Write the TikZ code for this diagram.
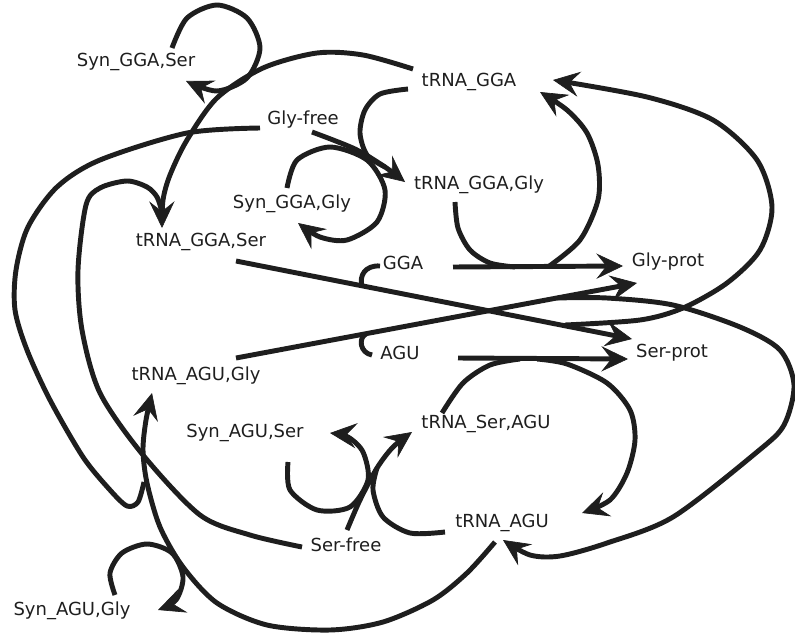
\documentclass[tikz,border=0pt]{standalone}
\usepackage{fontspec}
\setmainfont{DejaVu Sans}
\usetikzlibrary{arrows.meta}
\definecolor{ink}{RGB}{30,30,30}
\begin{document}
\begin{tikzpicture}[x=0.75pt,y=-0.75pt,
  lbl/.style={inner sep=0pt, text height=9.9pt, text depth=0pt,
    font=\fontsize{13.5}{16}\selectfont, text=ink},
  wire/.style={line width=3.7pt, draw=ink, line join=round},
  arr/.style={wire, -{Stealth[length=20pt,width=19pt,inset=7.5pt,line width=0.5pt]}},
]
\useasboundingbox (0,0) rectangle (795,635);

% species
\node[lbl] (synggaser)  at (136,60)  {Syn\_GGA,Ser};
\node[lbl] (trnagga)    at (469,80)  {tRNA\_GGA};
\node[lbl] (glyfree)    at (303,118) {Gly-free};
\node[lbl] (synggagly)  at (292,202) {Syn\_GGA,Gly};
\node[lbl] (trnaggagly) at (479,183) {tRNA\_GGA,Gly};
\node[lbl] (trnaggaser) at (201,240) {tRNA\_GGA,Ser};
\node[lbl] (gga)        at (403,263) {GGA};
\node[lbl] (glyprot)    at (668,260) {Gly-prot};
\node[lbl] (agu)        at (400,353) {AGU};
\node[lbl] (serprot)    at (672,351) {Ser-prot};
\node[lbl] (trnaagugly) at (196,374) {tRNA\_AGU,Gly};
\node[lbl] (synaguser)  at (245,431) {Syn\_AGU,Ser};
\node[lbl] (trnaseragu) at (486,422) {tRNA\_Ser,AGU};
\node[lbl] (trnaagu)    at (502,521) {tRNA\_AGU};
\node[lbl] (serfree)    at (346,545) {Ser-free};
\node[lbl] (synagugly)  at (72,609)  {Syn\_AGU,Gly};

% connector ends next to the labels
\coordinate (A0) at ([shift={(36,-12)}]synggaser.center);
\coordinate (A1) at ([shift={(50,21)}]synggaser.center);
\coordinate (B0) at ([shift={(-56,-11)}]trnagga.center);
\coordinate (Bt) at ([shift={(-39,-12)}]trnaggaser.center);
\coordinate (C0) at ([shift={(-44,2)}]serfree.center);
\coordinate (D0) at ([shift={(-43,10)}]glyfree.center);
\coordinate (Dt) at ([shift={(-44,19)}]trnaagugly.center);
\coordinate (E0) at ([shift={(-7,21)}]trnaagu.center);
\coordinate (F0) at ([shift={(43,-14)}]synagugly.center);
\coordinate (Ft) at ([shift={(86,1)}]synagugly.center);
\coordinate (G0) at ([shift={(9,14)}]glyfree.center);
\coordinate (Gt) at ([shift={(-74,-1)}]trnaggagly.center);
\coordinate (H0) at ([shift={(-61,9)}]trnagga.center);
\coordinate (I0) at ([shift={(-5,-14)}]synggagly.center);
\coordinate (It) at ([shift={(6,21)}]synggagly.center);
\coordinate (J0) at ([shift={(-24,19)}]trnaggagly.center);
\coordinate (K0) at ([shift={(50,4)}]gga.center);
\coordinate (Kt) at ([shift={(-45,6)}]glyprot.center);
\coordinate (Lt) at ([shift={(71,12)}]trnagga.center);
\coordinate (M0) at ([shift={(35,21)}]trnaggaser.center);
\coordinate (Mt) at ([shift={(-40,-12)}]serprot.center);
\coordinate (N0) at ([shift={(-23,3)}]gga.center);
\coordinate (Ot) at ([shift={(84,0)}]trnagga.center);
\coordinate (P0) at ([shift={(40,-16)}]trnaagugly.center);
\coordinate (Pt) at ([shift={(-31,23)}]glyprot.center);
\coordinate (Q0) at ([shift={(-28,2)}]agu.center);
\coordinate (Rt) at ([shift={(1,19)}]trnaagu.center);
\coordinate (S0) at ([shift={(58,5)}]agu.center);
\coordinate (St) at ([shift={(-44,8)}]serprot.center);
\coordinate (T0) at ([shift={(-44,-9)}]trnaseragu.center);
\coordinate (Ut) at ([shift={(80,-8)}]trnaagu.center);
\coordinate (V0) at ([shift={(1,-15)}]serfree.center);
\coordinate (Vt) at ([shift={(-74,10)}]trnaseragu.center);
\coordinate (W0) at ([shift={(-57,11)}]trnaagu.center);
\coordinate (X0) at ([shift={(43,31)}]synaguser.center);
\coordinate (Xt) at ([shift={(85,2)}]synaguser.center);

% junctions where reactant lines merge or product lines split
\coordinate (jC)      at (162,212);
\coordinate (jD)      at (144,482);
\coordinate (jGgly)   at (385,167);
\coordinate (jGGAin)  at (515,267);
\coordinate (jGGAout) at (548,267);
\coordinate (jSerM)   at (362,286);
\coordinate (jSerOut) at (565,325);
\coordinate (jAGUin)  at (366,334);
\coordinate (jGlyOut) at (557,298);
\coordinate (jSin)    at (520,359);
\coordinate (jSout)   at (537,359);
\coordinate (jVin)    at (377,468);

% charging tRNA_GGA with Ser
\draw[arr] plot[smooth] coordinates {(A0) (187,18) (217,5) (247,18) (260,48) (247,78) (217,91) (A1)};
\draw[arr] plot[smooth] coordinates {(B0) (363,55) (317,53) (263,68) (217,98) (187,140) (170,175) (163,200) (Bt)};
\draw[wire] plot[smooth] coordinates {(C0) (250,535) (200,515) (143,455) (100,393) (82,330) (78,270) (86,205) (100,188) (127,181) (147,187) (157,197) (jC)};

% charging tRNA_AGU with Gly
\draw[wire] plot[smooth] coordinates {(D0) (187,133) (100,160) (57,187) (28,227) (16,270) (15,310) (27,350) (50,400) (83,457) (110,490) (127,506) (138,502) (jD)};
\draw[arr] plot[smooth] coordinates {(E0) (467,573) (433,600) (383,622) (330,630) (267,625) (217,603) (183,567) (160,527) (147,483) (143,450) (146,420) (Dt)};
\draw[arr] plot[smooth] coordinates {(F0) (110,573) (122,553) (147,544) (172,553) (183,577) (176,600) (Ft)};

% charging tRNA_GGA with Gly
\draw[arr] plot[smooth] coordinates {(G0) (355,149) (jGgly) (Gt)};
\draw[wire] plot[smooth] coordinates {(H0) (380,94) (365,110) (360,133) (367,155) (jGgly)};
\draw[arr] plot[smooth] coordinates {(I0) (297,160) (330,147) (367,160) (385,190) (377,222) (347,240) (320,237) (It)};

% translation of GGA by tRNA_GGA,Gly
\draw[wire] plot[smooth] coordinates {(J0) (458,228) (470,250) (490,263) (jGGAin)};
\draw[arr] (K0) -- (Kt);
\draw[arr] plot[smooth] coordinates {(jGGAout) (580,240) (598,200) (598,165) (587,133) (567,110) (Lt)};

% translation of GGA by tRNA_GGA,Ser
\draw[arr] (M0) -- (Mt);
\draw[wire] (N0) .. controls (365,265) and (359,276) .. (jSerM);
\draw[arr] plot[smooth] coordinates {(jSerOut) (640,320) (683,308) (727,283) (760,250) (772,207) (757,160) (713,120) (647,97) (Ot)};

% translation of AGU by tRNA_AGU,Gly
\draw[arr] (P0) -- (Pt);
\draw[wire] (Q0) .. controls (360,353) and (358,338) .. (jAGUin);
\draw[arr] plot[smooth] coordinates {(jGlyOut) (607,298) (673,305) (740,327) (780,350) (794,385) (784,425) (757,452) (673,517) (607,543) (560,556) (530,555) (Rt)};

% translation of AGU by tRNA_Ser,AGU
\draw[arr] (S0) -- (St);
\draw[wire] plot[smooth] coordinates {(T0) (463,383) (490,365) (jSin)};
\draw[arr] plot[smooth] coordinates {(jSout) (567,364) (607,383) (630,410) (635,440) (627,473) (610,500) (Ut)};

% charging tRNA_AGU with Ser
\draw[arr] plot[smooth] coordinates {(V0) (360,500) (jVin) (393,447) (Vt)};
\draw[wire] plot[smooth] coordinates {(W0) (410,533) (383,517) (373,490) (jVin)};
\draw[arr] plot[smooth] coordinates {(X0) (290,490) (317,510) (350,507) (368,480) (363,452) (348,437) (Xt)};
\end{tikzpicture}
\end{document}
